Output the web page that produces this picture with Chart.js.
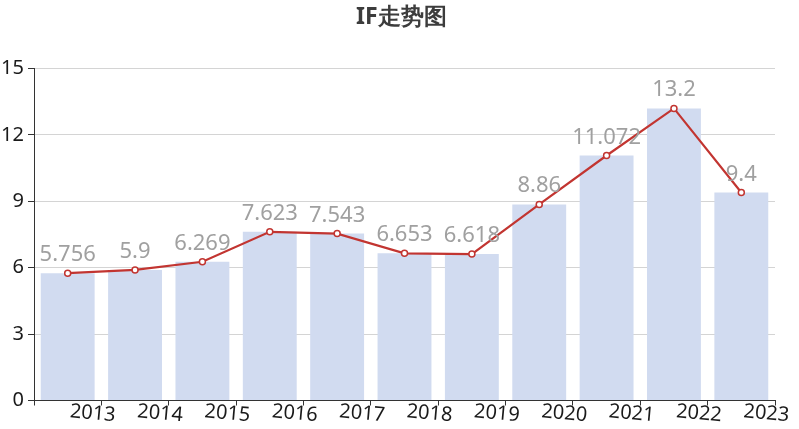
<!DOCTYPE html>
<html>
<head>
<meta charset="utf-8">
<script src="https://cdn.jsdelivr.net/npm/chart.js@4/dist/chart.umd.min.js"></script>
<style>
  html, body { margin: 0; padding: 0; background: #fff; }
  #wrap { width: 799px; height: 429px; }
</style>
</head>
<body>
<div id="wrap"><canvas id="chart" width="799" height="429"></canvas></div>
<script>
const years = ['2013', '2014', '2015', '2016', '2017', '2018', '2019', '2020', '2021', '2022', '2023'];
const ifValues = [5.756, 5.9, 6.269, 7.623, 7.543, 6.653, 6.618, 8.86, 11.072, 13.2, 9.4];
const yTicks = [0, 3, 6, 9, 12, 15];

const fontFamily = '"Noto Sans", "Open Sans", sans-serif';

// value labels above the bars
const barLabels = {
    id: 'barLabels',
    afterDatasetsDraw(chart) {
        const ctx = chart.ctx;
        const meta = chart.getDatasetMeta(0);
        ctx.save();
        ctx.font = '22px ' + fontFamily;
        ctx.fillStyle = '#a0a0a0';
        ctx.textAlign = 'center';
        ctx.textBaseline = 'alphabetic';
        meta.data.forEach((bar, i) => {
            ctx.fillText(String(ifValues[i]), bar.x, bar.y - 12);
        });
        ctx.restore();
    }
};

// slightly tilted year labels under the x axis
const yearLabels = {
    id: 'yearLabels',
    afterDraw(chart) {
        const ctx = chart.ctx;
        const xs = chart.scales.x;
        ctx.save();
        ctx.font = '20px ' + fontFamily;
        ctx.fillStyle = '#1a1a1a';
        ctx.textAlign = 'center';
        ctx.textBaseline = 'middle';
        years.forEach((y, i) => {
            const x = xs.getPixelForValue(i) + 25;
            ctx.save();
            ctx.translate(x, xs.top + 13);
            ctx.rotate(5 * Math.PI / 180);
            ctx.fillText(y, 0, 0);
            ctx.restore();
        });
        ctx.restore();
    }
};

const ctx = document.getElementById('chart').getContext('2d');
const chart = new Chart(ctx, {
    data: {
        labels: years,
        datasets: [{
            type: 'bar',
            data: ifValues,
            backgroundColor: '#d1dbf0',
            categoryPercentage: 0.8,
            barPercentage: 1.0,
            order: 2
        }, {
            type: 'line',
            data: ifValues,
            borderColor: '#c23531',
            borderWidth: 2.2,
            pointRadius: 3,
            pointBorderWidth: 1.5,
            pointBackgroundColor: '#fff',
            pointBorderColor: '#c23531',
            tension: 0,
            order: 1
        }]
    },
    options: {
        responsive: false,
        animation: false,
        layout: { padding: { left: 0, right: 0, bottom: 0 } },
        plugins: {
            legend: { display: false },
            tooltip: { enabled: false },
            title: {
                display: true,
                text: '\u2009IF走势图',
                color: '#3c3c3c',
                font: { family: fontFamily, size: 23, weight: 'bold' },
                padding: { top: 4, bottom: 37 }
            }
        },
        scales: {
            x: {
                offset: true,
                grid: {
                    offset: true,
                    drawOnChartArea: false,
                    tickLength: 5,
                    color: '#333'
                },
                border: { color: '#333', width: 1 },
                ticks: { display: false },
                afterFit(scale) { scale.height = 28.5; }
            },
            y: {
                min: 0,
                max: 15,
                afterBuildTicks(scale) { scale.ticks = yTicks.map(v => ({ value: v })); },
                grid: {
                    color: '#d4d4d4',
                    tickLength: 6,
                    tickColor: '#333'
                },
                border: { color: '#333', width: 1 },
                ticks: {
                    color: '#1a1a1a',
                    padding: 4,
                    font: { family: fontFamily, size: 20 }
                },
                afterFit(scale) { scale.width = 34; }
            },
            // empty right-hand gutter
            yRight: {
                position: 'right',
                min: 0,
                max: 15,
                grid: { display: false },
                border: { display: false },
                ticks: { display: false },
                afterFit(scale) { scale.width = 24; }
            }
        }
    },
    plugins: [barLabels, yearLabels]
});
</script>
</body>
</html>
